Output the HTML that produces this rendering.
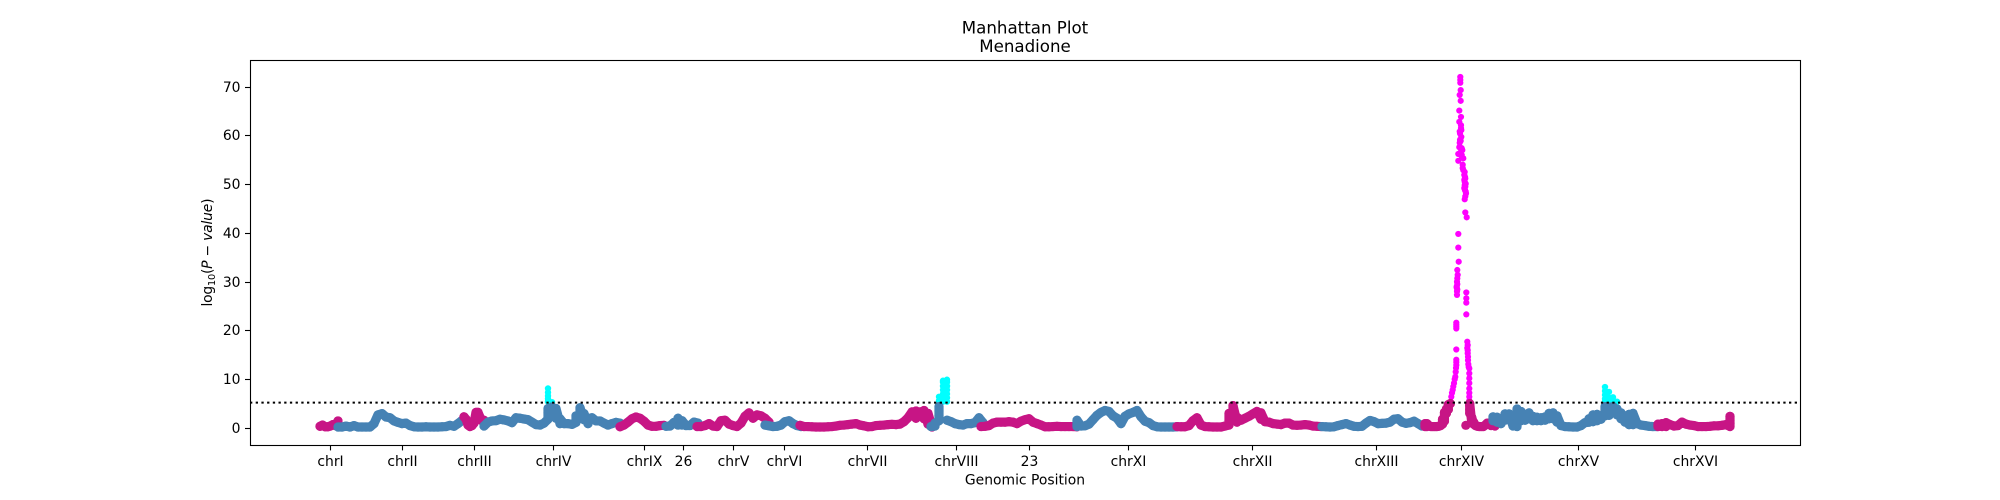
<!DOCTYPE html>
<html lang="en">
<head>
<meta charset="utf-8">
<title>Manhattan Plot - Menadione</title>
<style>
html,body{margin:0;padding:0;background:#fff;}
svg{display:block;}
text{font-family:"DejaVu Sans","Liberation Sans",sans-serif;fill:#000;}
</style>
</head>
<body>
<svg id="chart" width="2000" height="500" viewBox="0 0 2000 500" xmlns="http://www.w3.org/2000/svg">
  <rect x="0" y="0" width="2000" height="500" fill="#fff"/>
  <text x="1025" y="33.5" font-size="16.67" text-anchor="middle">Manhattan Plot</text>
  <text x="1025" y="52" font-size="16.67" text-anchor="middle">Menadione</text>
  <g id="hit-layer"></g>
  <g id="band-layer"></g>
  <line id="threshold" stroke="#000" stroke-width="2" stroke-dasharray="2.3 3.4"/>
  <rect x="250.5" y="60.5" width="1550" height="385" fill="none" stroke="#000" stroke-width="1.1"/>
  <g id="x-axis"></g>
  <g id="y-axis"></g>
  <text x="1025" y="484.5" font-size="13.9" text-anchor="middle">Genomic Position</text>
  <text transform="translate(212 252.5) rotate(-90)" font-size="13.9" text-anchor="middle" textLength="108">log<tspan dy="3" font-size="9.7">10</tspan><tspan dy="-3">(</tspan><tspan font-style="italic">P − value</tspan>)</text>
</svg>
<script>
const tickLabels = ["chrI","chrII","chrIII","chrIV","chrIX","26","chrV","chrVI","chrVII","chrVIII","23","chrXI","chrXII","chrXIII","chrXIV","chrXV","chrXVI"];
const tickPositions = [0.803,1.523,2.243,3.033,3.943,4.333,4.833,5.343,6.173,7.063,7.793,8.783,10.015,11.255,12.105,13.275,14.445];
const yTicks = [0,10,20,30,40,50,60,70];
const significanceThreshold = 5.2;
const chrStart = [0.70,0.88,2.14,2.34,3.70,4.16,4.47,5.15,5.50,6.81,7.31,8.27,9.27,10.72,11.75,12.43,14.08];
const chrEnd = [0.88,2.12,2.36,3.70,4.14,4.48,5.19,5.51,6.82,7.33,8.27,9.27,10.71,11.72,12.45,14.07,14.80];

const valuesChrI = [0.35,0.6,0.25,0.25,0.4,0.7,0.5,1.45];
const valuesChrII = [0.2,0.2,0.4,0.2,0.48,0.2,0.2,0.2,0.2,0.9,2.7,2.95,2.25,2.1,1.45,1.15,0.9,1.0,0.5,0.25,0.2,0.2,0.25,0.2,0.2,0.2,0.25,0.3,0.55,0.35,0.9,1.55];
const valuesChrIII = [2.3,1.8,0.6,0.3,0.5,1.0,3.2,3.2,2.2,1.5,1.6,1.2];
const valuesChrIV = [0.4,1.2,1.45,1.5,1.8,1.65,1.45,1.1,2.1,2.0,1.85,1.7,1.2,0.7,0.6,1.0,[1.8,5.4,6.0,6.6,7.3,8.1,3.1,4.0],[5.3,3.0,4.3],[2.0,3.0,4.0],[0.9,1.9],0.9,0.9,0.75,[1.15,2.5],[2.0,3.0,4.15],[1.7,2.95],[0.9,1.9],2.1,1.45,1.45,1.0,0.6,0.9,1.15,1.0];
const valuesChrIX = [0.25,0.6,1.2,1.9,2.25,2.0,1.4,0.6,0.35,0.35,0.5,0.55];
const valuesChr26 = [0.35,0.4,1.15,[0.6,2.0],[0.6,1.5],0.5,0.5,1.2,1.0];
const valuesChrV = [0.3,0.3,0.5,0.9,0.4,0.3,1.5,1.6,0.8,0.5,0.3,1.0,2.4,3.1,2.0,2.7,2.5,2.0,1.2];
const valuesChrVI = [0.6,0.45,0.3,0.35,0.6,1.3,1.5,0.9,0.5,0.3];
const valuesChrVII = [0.55,0.3,0.3,0.25,0.2,0.2,0.2,0.25,0.3,0.4,0.55,0.6,0.7,0.8,0.9,0.6,0.45,0.25,0.3,0.5,0.55,0.6,0.7,0.75,0.7,0.8,1.3,2.1,3.3,[2,3.5],[2.5,3.3],[1.9,3.6],[0.8,2,3],[0.2,1]];
const valuesChrVIII = [0.3,[0.4,1],[6.4,5.6,1.5,2.5,3.5,4.4],[5.4,6.2,7,7.8,8.6,9.4,9.7],[5.4,6.2,7,7.8,8.6,9.4,9.9,1.6],1.3,0.9,0.7,0.6,0.9,0.9,1.1,2.1,1.1];
const valuesChr23 = [0.3,0.35,0.5,1.0,1.2,1.2,1.2,1.3,1.2,0.9,1.4,1.7,1.9,1.2,0.9,0.6,0.25,0.25,0.3,0.35,0.3,0.3,0.3,0.3,0.25];
const valuesChrXI = [[0.3,1.6],0.4,0.45,0.8,1.7,2.6,3.2,3.6,3.4,2.5,2.0,0.9,2.4,2.9,3.2,3.6,2.3,1.4,1.1,0.5,0.25,0.2,0.2,0.2,0.2,0.25];
const valuesChrXII = [0.3,0.25,0.25,0.5,1.5,2.1,0.6,0.3,0.25,0.2,0.2,0.2,0.4,[0.6,1.5,3.0],[1.5,3,4.6],[1.2,2.2],1.6,2.0,2.4,2.9,3.4,[3.1,1.8],1.3,1.2,0.9,0.8,0.7,1.0,1.0,0.6,0.55,0.6,0.7,0.6,0.4,0.35,0.3];
const valuesChrXIII = [0.3,0.25,0.2,0.25,0.5,0.7,0.9,0.6,0.35,0.3,0.35,1.0,1.55,1.3,0.9,0.95,1.0,1.2,1.8,1.9,1.2,0.95,1.1,1.4,0.9,0.4];
const valuesChrXIV = [[0.3,0.9],[0.3,0.9],0.5,0.3,0.3,0.3,0.3,0.35,0.5,[0.8,1.8],[1.4,2.4,3.2],[3,3.9],[3.8,4.8],[5],[],[],[],[],[],[],[],[0.55],[],[3,3.8,4.6,5],[1.2,2.2],[0.8,1.2],0.5,0.35,0.3,0.3,0.3,0.6,1.0,1.0,0.5,0.8,0.4];
const valuesChrXV = [[1.5,2.3],[1.2,2.2],[0.9,1.6],[1.6,2.9],[1.8,2.9],[0.4,1.6,2.4],[0.3,1.5,2.8,3.9],[1.5,2.8,3.4],[1.6,2.4],[1.9,3.1],[1.5,2.4],[1.5,2.2],[1.5,2.1],[1.6,2.3],[1.9,3],[1.9,3.1],[1.2,2.5],0.5,0.3,0.25,0.2,0.2,0.5,1.1,[1.2,1.9],[1.3,2.7],[1.5,2.8],[1.8,2.4],[5.4,6,6.8,7.6,8.4,2.5,3.6,4.4],[5.4,6.2,7.4,2.6,4.3],[5.4,6.3,3.1,4.4],[5.4,2.7,3.9],[1.9,3.1],[1.2,2.4],[0.7,1.6,2.8],[0.7,2.2,3.0],0.9,0.6,0.5,0.35,0.3,0.3];
const valuesChrXVI = [[0.3,0.8],[0.3,0.9],[0.3,1.1],0.7,0.4,0.5,1.2,0.8,0.6,0.5,0.3,0.3,0.3,0.35,0.45,0.45,0.55,0.7,[0.3,1,1.6,2.4]];
const seriesValues = [valuesChrI,valuesChrII,valuesChrIII,valuesChrIV,valuesChrIX,valuesChr26,valuesChrV,valuesChrVI,valuesChrVII,valuesChrVIII,valuesChr23,valuesChrXI,valuesChrXII,valuesChrXIII,valuesChrXIV,valuesChrXV,valuesChrXVI];

const peakChrXivPos = [12.103,12.103,12.103,12.107,12.097,12.107,12.093,12.110,12.093,12.110,12.113,12.100,12.113,12.100,12.093,12.123,12.083,12.117,12.133,12.083,12.127,12.133,12.143,12.153,12.147,12.153,12.150,12.160,12.147,12.153,12.167,12.083,12.110,12.097,12.107,12.097,12.117,12.107,12.120,12.127,12.147,12.150,12.143,12.157,12.147,12.143,12.157,12.153,12.083,12.087,12.073,12.077,12.070,12.067,12.073,12.163,12.163,12.163,12.163,12.063,12.063,12.063,12.063,12.173,12.177,12.173,12.177,12.063,12.177,12.180,12.180,12.183,12.187,12.193,12.193,12.193,12.193,12.193,12.193,12.193,12.193,12.007,12.013,12.020,12.027,12.033,12.040,12.047,12.053,12.057,12.060,12.063,12.063,12.063,12.073,12.073,12.070,12.070,12.067];
const peakChrXivVal = [72.0,71.4,70.8,69.3,68.3,67.1,65.1,63.8,62.8,62.1,61.1,60.4,59.7,59.1,57.6,57,56.2,56,55.3,54.8,54,52.9,51.9,51.2,50.5,49.5,48.8,48.1,46.9,44.2,43.2,39.8,61.5,60.8,58.9,58.5,57.4,56.6,55.5,53.3,52.5,51.5,50.9,50.1,49.8,49.2,48.5,47.5,37,34.1,32.4,31.4,30,29,30.7,27.8,26.6,25.7,23.3,21.6,21.2,20.8,20.4,17.7,17,16.4,15.9,16.1,15.3,14.6,13.9,13.1,12.5,12.2,11.2,10.2,9.2,8.1,7.2,6.4,5.6,5.4,6.4,7.2,7.8,8.5,9.2,10,10.5,11.5,12.3,12.9,13.5,14,29.5,28.4,28,27.3,28.8];

const xDomain = [0,15.5];
const xRange = [250,1800];
const yDomain = [0,70];
const yRange = [428,86.7];
const baseColors = ["#C71585","#4682B4"];
const hitColors = ["#FF00FF","#00FFFF"];
const bandRadius = 4.6;
const SVG_NS = "http://www.w3.org/2000/svg";

function xScale(v){
  return xRange[0] + (v - xDomain[0]) * (xRange[1] - xRange[0]) / (xDomain[1] - xDomain[0]);
}
function yScale(v){
  return yRange[0] + (v - yDomain[0]) * (yRange[1] - yRange[0]) / (yDomain[1] - yDomain[0]);
}
function addPoint(layer, pos, val, radius, color){
  const c = document.createElementNS(SVG_NS, "circle");
  c.setAttribute("cx", xScale(pos).toFixed(2));
  c.setAttribute("cy", yScale(val).toFixed(2));
  c.setAttribute("r", radius);
  c.setAttribute("fill", color);
  
  
  layer.appendChild(c);
}
function addBandTrace(layer, points, color){
  if (points.length < 2) return;
  const p = document.createElementNS(SVG_NS, "polyline");
  p.setAttribute("points", points.join(" "));
  p.setAttribute("fill", "none");
  p.setAttribute("stroke", color);
  p.setAttribute("stroke-width", bandRadius * 2);
  p.setAttribute("stroke-linejoin", "round");
  p.setAttribute("stroke-linecap", "round");
  
  
  layer.appendChild(p);
}

const hitLayer = document.getElementById("hit-layer");
const bandLayer = document.getElementById("band-layer");

seriesValues.forEach(function(values, chrIndex){
  const group = document.createElementNS(SVG_NS, "g");
  
  
  bandLayer.appendChild(group);
  const color = baseColors[chrIndex % 2];
  const step = (chrEnd[chrIndex] - chrStart[chrIndex]) / (values.length - 1);
  let trace = [];
  values.forEach(function(entry, i){
    const pos = chrStart[chrIndex] + i * step;
    const low = [];
    [].concat(entry).forEach(function(val){
      if (val > significanceThreshold) {
        addPoint(hitLayer, pos, val, 3.2, hitColors[chrIndex % 2]);
      } else {
        low.push(val);
        addPoint(group, pos, val, bandRadius, color);
      }
    });
    if (low.length === 0) {
      addBandTrace(group, trace, color);
      trace = [];
    } else {
      low.sort(function(a, b){ return a - b; });
      low.forEach(function(val){
        trace.push(xScale(pos).toFixed(2) + "," + yScale(val).toFixed(2));
      });
    }
  });
  addBandTrace(group, trace, color);
});

peakChrXivPos.forEach(function(pos, i){
  addPoint(hitLayer, pos, peakChrXivVal[i], 3.1, hitColors[0]);
});

const thresholdLine = document.getElementById("threshold");
thresholdLine.setAttribute("x1", xRange[0]);
thresholdLine.setAttribute("x2", xRange[1]);
thresholdLine.setAttribute("y1", yScale(significanceThreshold));
thresholdLine.setAttribute("y2", yScale(significanceThreshold));

const xAxis = document.getElementById("x-axis");
tickLabels.forEach(function(label, i){
  const px = Math.round(xScale(tickPositions[i])) + 0.5;
  const tick = document.createElementNS(SVG_NS, "line");
  tick.setAttribute("x1", px);
  tick.setAttribute("x2", px);
  tick.setAttribute("y1", 445);
  tick.setAttribute("y2", 450.4);
  tick.setAttribute("stroke", "#000");
  tick.setAttribute("stroke-width", 1.1);
  
  
  xAxis.appendChild(tick);
  const text = document.createElementNS(SVG_NS, "text");
  text.setAttribute("x", px);
  text.setAttribute("y", 466);
  text.setAttribute("font-size", 13.9);
  text.setAttribute("text-anchor", "middle");
  
  
  text.textContent = label;
  xAxis.appendChild(text);
});

const yAxis = document.getElementById("y-axis");
yTicks.forEach(function(value){
  const py = Math.round(yScale(value)) + 0.5;
  const tick = document.createElementNS(SVG_NS, "line");
  tick.setAttribute("x1", 245);
  tick.setAttribute("x2", 250);
  tick.setAttribute("y1", py);
  tick.setAttribute("y2", py);
  tick.setAttribute("stroke", "#000");
  tick.setAttribute("stroke-width", 1.1);
  
  
  yAxis.appendChild(tick);
  const text = document.createElementNS(SVG_NS, "text");
  text.setAttribute("x", 240.5);
  text.setAttribute("y", py + 4.7);
  text.setAttribute("font-size", 13.9);
  text.setAttribute("text-anchor", "end");
  
  
  text.textContent = String(value);
  yAxis.appendChild(text);
});
</script>
</body>
</html>
